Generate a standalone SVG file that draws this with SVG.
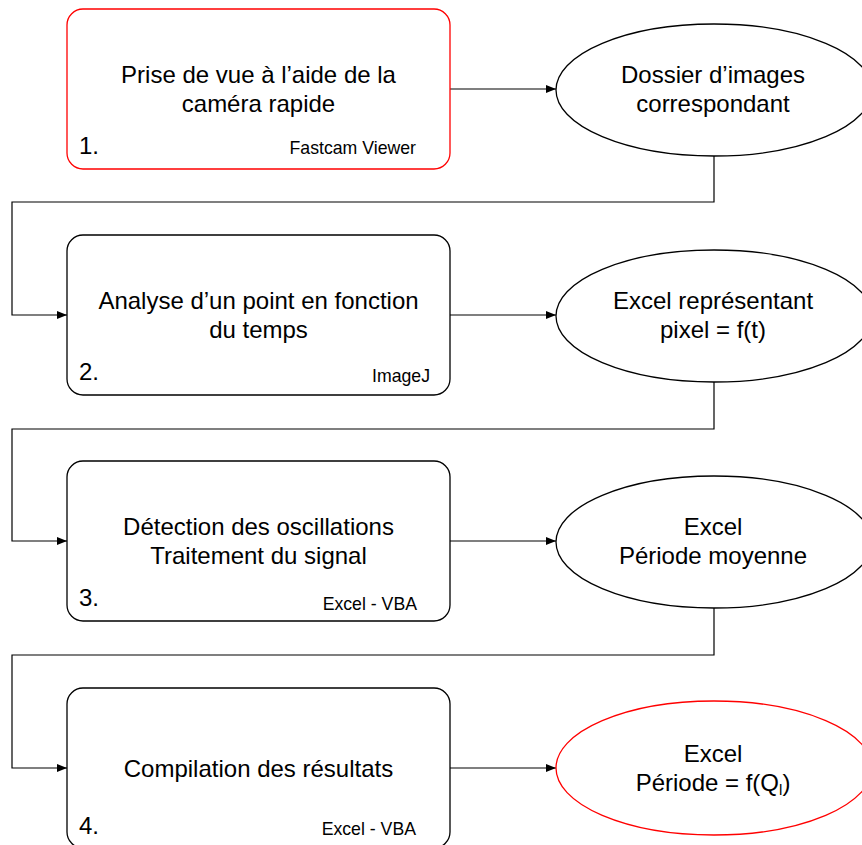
<svg xmlns="http://www.w3.org/2000/svg" width="862" height="845" viewBox="0 0 862 845">
<defs>
<marker id="arr" markerWidth="10" markerHeight="8" refX="10" refY="4" orient="auto" markerUnits="userSpaceOnUse">
<path d="M0,0 L10,4 L0,8 Z" fill="#000"/>
</marker>
<style>
.box{fill:#fff;stroke:#000;stroke-width:1.3}
.ell{fill:#fff;stroke:#000;stroke-width:1.3}
.red{stroke:#ff0000}
.t{font-family:"Liberation Sans",Arial,sans-serif;font-size:24px;fill:#000;text-anchor:middle}
.n{font-family:"Liberation Sans",Arial,sans-serif;font-size:24px;fill:#000}
.s{font-family:"Liberation Sans",Arial,sans-serif;font-size:17.7px;fill:#000;text-anchor:end}
.c{fill:none;stroke:#000;stroke-width:1.2}
</style>
</defs>
<rect width="862" height="845" fill="#fff"/>
<g id="connectors">
<path class="c" d="M450,89 H556" marker-end="url(#arr)"/>
<path class="c" d="M450,315 H556" marker-end="url(#arr)"/>
<path class="c" d="M450,541 H556" marker-end="url(#arr)"/>
<path class="c" d="M450,768 H556" marker-end="url(#arr)"/>
<path class="c" d="M714,156 V202 H12 V315 H67" marker-end="url(#arr)"/>
<path class="c" d="M714,382 V429 H12 V541 H67" marker-end="url(#arr)"/>
<path class="c" d="M714,608 V655 H12 V768 H67" marker-end="url(#arr)"/>
</g>
<g id="box1">
<rect class="box red" x="67" y="9" width="383" height="160" rx="16"/>
<text class="t" x="258.5" y="83">Prise de vue à l’aide de la</text>
<text class="t" x="258.5" y="112">caméra rapide</text>
<text class="n" x="79" y="154">1.</text>
<text class="s" x="416" y="154">Fastcam Viewer</text>
</g>
<g id="ellipse1">
<ellipse class="ell" cx="714" cy="90" rx="158" ry="66"/>
<text class="t" x="713" y="83">Dossier d’images</text>
<text class="t" x="713" y="112">correspondant</text>
</g>
<g id="box2">
<rect class="box" x="67" y="235" width="383" height="160" rx="16"/>
<text class="t" x="258.5" y="309">Analyse d’un point en fonction</text>
<text class="t" x="258.5" y="338">du temps</text>
<text class="n" x="79" y="380">2.</text>
<text class="s" x="430" y="382">ImageJ</text>
</g>
<g id="ellipse2">
<ellipse class="ell" cx="714" cy="316" rx="158" ry="66"/>
<text class="t" x="713" y="309">Excel représentant</text>
<text class="t" x="713" y="338">pixel = f(t)</text>
</g>
<g id="box3">
<rect class="box" x="67" y="461" width="383" height="160" rx="16"/>
<text class="t" x="258.5" y="535">Détection des oscillations</text>
<text class="t" x="258.5" y="564">Traitement du signal</text>
<text class="n" x="79" y="606">3.</text>
<text class="s" x="417" y="610">Excel - VBA</text>
</g>
<g id="ellipse3">
<ellipse class="ell" cx="714" cy="542" rx="158" ry="66"/>
<text class="t" x="713" y="535">Excel</text>
<text class="t" x="713" y="564">Période moyenne</text>
</g>
<g id="box4">
<rect class="box" x="67" y="688" width="383" height="160" rx="16"/>
<text class="t" x="258.5" y="777">Compilation des résultats</text>
<text class="n" x="79" y="834">4.</text>
<text class="s" x="416" y="835">Excel - VBA</text>
</g>
<g id="ellipse4">
<ellipse class="ell red" cx="714" cy="768" rx="158" ry="67"/>
<text class="t" x="713" y="762">Excel</text>
<text class="t" x="713" y="791">Période = f(Q<tspan font-size="15" dy="4">l</tspan><tspan dy="-4">)</tspan></text>
</g>
</svg>
